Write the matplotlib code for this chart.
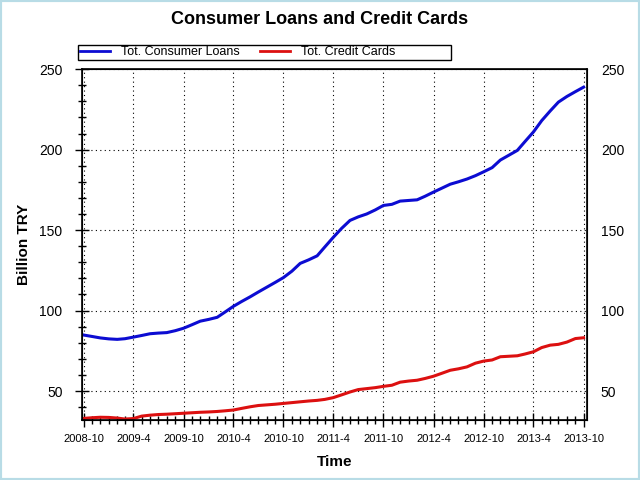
import matplotlib
matplotlib.use("Agg")
import matplotlib.pyplot as plt
import matplotlib.dates as mdates
from matplotlib.lines import Line2D
from matplotlib.patches import Rectangle
from matplotlib.ticker import MultipleLocator, FuncFormatter
import numpy as np
import pandas as pd

plt.rcParams['font.family'] = ['Liberation Sans', 'DejaVu Sans']

# monthly, 2008-10 .. 2013-10, billion TRY
months = pd.date_range('2008-10-01', '2013-10-01', freq='MS')
consumer_loans = [84.8, 83.9, 83.0, 82.4, 82.1, 82.5, 83.5, 84.5, 85.6, 86.0,
                  86.3, 87.5, 89.0, 91.2, 93.4, 94.5, 95.8, 99.0, 102.6, 105.6,
                  108.5, 111.5, 114.5, 117.5, 120.5, 124.5, 129.3, 131.5, 134.0, 139.5,
                  145.5, 151.0, 156.0, 158.2, 160.0, 162.5, 165.3, 166.0, 168.0, 168.4,
                  168.8, 171.0, 173.6, 176.0, 178.5, 180.0, 181.7, 183.8, 186.2, 188.8,
                  193.5, 196.5, 199.5, 205.0, 211.0, 218.0, 224.0, 229.5, 233.0, 236.0,
                  238.8]
credit_cards = [33.0, 33.4, 33.7, 33.6, 33.2, 32.6, 32.9, 34.4, 35.0, 35.4,
                35.6, 35.9, 36.2, 36.5, 36.8, 37.0, 37.3, 37.7, 38.2, 39.2,
                40.2, 41.0, 41.4, 41.8, 42.3, 42.8, 43.3, 43.8, 44.2, 44.8,
                45.9, 47.6, 49.4, 50.9, 51.5, 52.1, 52.9, 53.6, 55.5, 56.2,
                56.7, 57.8, 59.2, 61.0, 62.9, 63.8, 65.0, 67.3, 68.6, 69.3,
                71.3, 71.6, 71.9, 73.0, 74.4, 77.0, 78.5, 79.0, 80.4, 82.6,
                83.1]
series_names = ['Tot. Consumer Loans', 'Tot. Credit Cards']
series_colors = ['#0c0cd2', '#dc1010']
y_ticks = [50, 100, 150, 200, 250]

fig = plt.figure(figsize=(6.4, 4.8), dpi=100)
ax = fig.add_axes([0.128, 0.125, 0.789, 0.731])

ax.plot(months, consumer_loans, color=series_colors[0], lw=2.2)
ax.plot(months, credit_cards, color=series_colors[1], lw=2.2)

ax.set_xlim(months[0] - pd.Timedelta(days=6), months[-1] + pd.Timedelta(days=12))
ax.set_ylim(32, 250)

ax.xaxis.set_major_locator(mdates.MonthLocator(bymonth=(4, 10)))
ax.xaxis.set_minor_locator(mdates.MonthLocator())
ax.xaxis.set_major_formatter(FuncFormatter(
    lambda v, p: f"{mdates.num2date(v).year}-{mdates.num2date(v).month}"))
ax.set_yticks(y_ticks)
ax.yaxis.set_minor_locator(MultipleLocator(10))

ax.grid(True, which='major', color='black', linestyle=(0, (1, 3)), lw=0.8)
ax.tick_params(which='major', direction='inout', length=10, width=1, color='black')
ax.tick_params(which='minor', direction='inout', length=6, width=1, color='black')
ax.tick_params(axis='x', which='major', labelsize=8, pad=5)
ax.tick_params(axis='y', which='major', labelsize=10, pad=9)
ax.tick_params(axis='y', which='both', right=True)
ax.tick_params(axis='x', which='both', top=False)
for s in ax.spines.values():
    s.set_linewidth(1.2)

ax2 = ax.twinx()
ax2.set_ylim(ax.get_ylim())
ax2.set_yticks(y_ticks)
ax2.tick_params(axis='y', which='major', direction='inout', length=10, labelsize=10, pad=5)
ax2.tick_params(axis='y', which='both', right=False)

ax.set_xlabel('Time', fontsize=11, fontweight='bold', labelpad=8)
ax.set_ylabel('Billion TRY', fontsize=11, fontweight='bold', labelpad=6)

fig.text(0.5, 1 - 20 / 480, 'Consumer Loans and Credit Cards',
         ha='center', va='center', fontsize=13, fontweight='bold')

handles = [Line2D([], [], color=c, lw=2) for c in series_colors]
leg = fig.legend(handles, series_names, loc='center left', ncol=2,
                 bbox_to_anchor=(80 / 640, 1 - 52 / 480), frameon=False,
                 fontsize=9, handlelength=2.4, handletextpad=0.9,
                 columnspacing=1.6, borderpad=0, borderaxespad=0)
fig.add_artist(Rectangle((78 / 640, 1 - 59.5 / 480), 373 / 640, 15 / 480,
                         transform=fig.transFigure, fill=False,
                         edgecolor='black', lw=1))
fig.add_artist(Rectangle((0, 0), 1, 1, transform=fig.transFigure, fill=False,
                         edgecolor='#b8dce6', lw=3))

fig.savefig('out.png', dpi=100)
